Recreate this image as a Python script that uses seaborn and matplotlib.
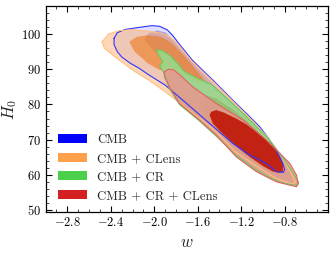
import numpy as np
import pandas as pd
import matplotlib
matplotlib.use("Agg")
import matplotlib.pyplot as plt
import seaborn as sns
from matplotlib.patches import Patch
from matplotlib.ticker import MultipleLocator

# ---------------- data (w, H0) contour vertices ----------------
labels = ["CMB", "CMB + CLens", "CMB + CR", "CMB + CR + CLens"]

cmb_2s_w = [-2.37, -2.34, -2.27, -2.14, -2.02, -1.95, -1.88, -1.83, -1.76, -1.65, -1.45, -1.28, -1.15, -1.03, -0.95, -0.87, -0.82, -0.80, -0.81, -0.87, -0.97, -1.12, -1.28, -1.49, -1.74, -1.90, -2.05, -2.14, -2.22, -2.30, -2.34, -2.37]
cmb_2s_h = [98.8, 100.4, 101.3, 101.9, 102.4, 102.2, 101.2, 99.6, 96.8, 92.6, 86.6, 81.3, 77.4, 73.7, 70.5, 66.5, 63.5, 61.5, 60.7, 60.8, 63.3, 65.6, 69.0, 74.6, 81.3, 85.5, 88.4, 90.3, 91.7, 93.5, 95.0, 97.0]
cmb_1s_w = [-2.09, -2.05, -1.97, -1.90, -1.84, -1.76, -1.62, -1.45, -1.28, -1.10, -0.95, -0.85, -0.83, -0.88, -1.00, -1.15, -1.30, -1.45, -1.60, -1.75, -1.90, -2.02]
cmb_1s_h = [98.5, 100.3, 101.0, 100.5, 98.8, 95.8, 91.0, 85.5, 80.2, 74.8, 69.5, 65.0, 62.0, 61.5, 64.0, 67.8, 72.0, 77.0, 82.5, 88.0, 92.5, 95.8]

cl_2s_w = [-2.48, -2.42, -2.32, -2.20, -2.05, -1.93, -1.85, -1.78, -1.66, -1.45, -1.28, -1.10, -0.95, -0.83, -0.74, -0.70, -0.72, -0.88, -1.06, -1.25, -1.43, -1.58, -1.74, -1.89, -2.05, -2.20, -2.36, -2.46]
cl_2s_h = [97.8, 100.0, 101.0, 101.2, 100.8, 100.2, 99.0, 97.0, 92.5, 86.2, 81.0, 75.5, 70.5, 65.5, 60.5, 58.0, 57.3, 59.0, 62.5, 66.5, 72.2, 76.0, 79.8, 83.4, 86.9, 89.8, 93.5, 96.0]
cl_1s_w = [-2.23, -2.16, -2.06, -1.94, -1.84, -1.74, -1.66, -1.58, -1.53, -1.60, -1.72, -1.82, -1.95, -2.06, -2.18]
cl_1s_h = [97.8, 99.2, 99.7, 99.2, 97.5, 94.3, 91.5, 88.5, 86.6, 86.4, 88.0, 89.3, 89.8, 91.7, 95.0]

cr_2s_w = [-1.98, -1.93, -1.85, -1.78, -1.72, -1.60, -1.47, -1.29, -1.10, -0.95, -0.82, -0.72, -0.67, -0.68, -0.815, -0.95, -1.06, -1.245, -1.43, -1.584, -1.769, -1.861, -1.89, -1.92, -1.95, -1.92, -1.96]
cr_2s_h = [95.5, 95.4, 93.8, 91.5, 89.3, 87.4, 85.6, 80.6, 75.0, 70.3, 65.0, 60.5, 57.8, 57.0, 57.6, 59.4, 61.3, 65.5, 71.0, 75.3, 80.0, 84.5, 87.5, 89.5, 91.0, 92.2, 94.0]
cr_1s_w = [-1.58, -1.52, -1.42, -1.25, -1.10, -0.97, -0.87, -0.80, -0.79, -0.85, -0.95, -1.10, -1.25, -1.40, -1.52, -1.58]
cr_1s_h = [82.0, 82.6, 81.5, 78.0, 74.0, 70.0, 66.5, 62.5, 60.5, 60.0, 61.0, 64.0, 67.5, 72.0, 76.5, 79.5]

crcl_2s_w = [-1.907, -1.87, -1.82, -1.75, -1.646, -1.43, -1.184, -0.968, -0.753, -0.69, -0.676, -0.69, -0.876, -1.06, -1.245, -1.43, -1.584, -1.769, -1.861, -1.907]
crcl_2s_h = [89.3, 90.0, 89.8, 88.0, 85.0, 80.3, 75.6, 69.9, 63.3, 59.9, 57.6, 56.6, 58.0, 60.9, 65.1, 71.3, 75.6, 80.3, 85.0, 88.0]
crcl_1s_w = [-1.49, -1.476, -1.43, -1.36, -1.245, -1.15, -1.06, -0.98, -0.907, -0.85, -0.815, -0.815, -0.85, -0.907, -1.00, -1.122, -1.22, -1.307, -1.39, -1.461]
crcl_1s_h = [77.0, 77.9, 78.4, 77.7, 76.0, 74.3, 72.2, 70.2, 68.0, 65.7, 63.3, 60.9, 60.6, 60.9, 62.5, 65.1, 67.5, 69.9, 72.3, 74.6]

x_ticks = [-2.8, -2.4, -2.0, -1.6, -1.2, -0.8]
y_ticks = [50, 60, 70, 80, 90, 100]

# ---------------- style ----------------
sns.set_style("ticks")
plt.rcParams.update({
    "font.family": "serif",
    "font.serif": ["cmr10", "DejaVu Serif"],
    "mathtext.fontset": "cm",
    "axes.formatter.use_mathtext": True,
    "axes.unicode_minus": True,
    "xtick.direction": "in",
    "ytick.direction": "in",
    "xtick.top": True,
    "ytick.right": True,
})

fig = plt.figure(figsize=(3.33, 2.58), dpi=100)
ax = fig.add_axes([0.137, 0.178, 0.848, 0.799])

datasets = [
    # (2s w, 2s h, 1s w, 1s h, fill2, a2, fill1, a1, edge)
    (cmb_2s_w, cmb_2s_h, cmb_1s_w, cmb_1s_h, "#8c8cff", 0.28, "#6040b0", 0.4, "#3333ff"),
    (cl_2s_w, cl_2s_h, cl_1s_w, cl_1s_h, "#ffb070", 0.5, "#ec7a20", 0.62, "#ffc080"),
    (cr_2s_w, cr_2s_h, cr_1s_w, cr_1s_h, "#96dc8c", 0.85, "#90b060", 0.6, "#6cc860"),
    (crcl_2s_w, crcl_2s_h, crcl_1s_w, crcl_1s_h, "#e8968e", 0.85, "#c01808", 0.92, "#e06464"),
]

for w2, h2, w1, h1, f2, a2, f1, a1, ec in datasets:
    ax.fill(w2, h2, color=f2, alpha=a2, lw=0, zorder=2)
    ax.fill(w1, h1, color=f1, alpha=a1, lw=0, zorder=2)
    df = pd.DataFrame({"w": list(w2) + [w2[0]], "H0": list(h2) + [h2[0]]})
    sns.lineplot(data=df, x="w", y="H0", sort=False, estimator=None,
                 color=ec, lw=0.8, ax=ax, zorder=3)

ax.set_xlim(-3.0, -0.4)
ax.set_ylim(49.4, 108)
ax.set_xticks(x_ticks)
ax.set_yticks(y_ticks)
ax.xaxis.set_minor_locator(MultipleLocator(0.1))
ax.yaxis.set_minor_locator(MultipleLocator(2))
ax.tick_params(which="major", length=4, width=0.8, labelsize=9, colors="black", pad=3)
ax.tick_params(which="minor", length=2, width=0.6)
for s in ax.spines.values():
    s.set_linewidth(0.9)
    s.set_color("black")

ax.set_xlabel(r"$w$", fontsize=12)
ax.set_ylabel(r"$H_0$", fontsize=12)
ax.yaxis.set_label_coords(-0.095, 0.5)

legend_colors = ["#0000ff", "#ffa04c", "#4cd04c", "#d42020"]
handles = [Patch(facecolor=c, edgecolor="none") for c in legend_colors]
ax.legend(handles, labels, loc="lower left", bbox_to_anchor=(0.044, 0.05), frameon=False,
          fontsize=9.2, handlelength=2.25, handleheight=0.7, handletextpad=0.8,
          labelspacing=0.5, borderaxespad=0, borderpad=0)

fig.savefig("out.png", dpi=100)
